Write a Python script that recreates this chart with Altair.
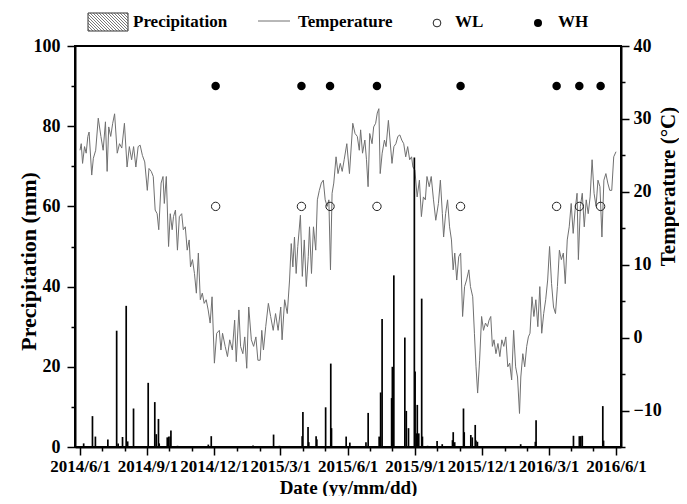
import altair as alt
import pandas as pd

# ---------------- data ----------------
# daily precipitation events (mm)
precip_date = ["2014-06-06","2014-06-18","2014-06-22","2014-07-09","2014-07-21","2014-07-23","2014-07-29","2014-08-03",
               "2014-08-05","2014-08-13","2014-09-02","2014-09-11","2014-09-13","2014-09-16","2014-09-17","2014-09-28",
               "2014-09-30","2014-10-02","2014-10-03","2014-10-12","2014-11-23","2014-11-27","2015-01-23","2015-02-20",
               "2015-02-28","2015-03-31","2015-04-01","2015-04-08","2015-04-09","2015-04-19","2015-04-20","2015-05-02",
               "2015-05-09","2015-05-10","2015-05-30","2015-06-04","2015-06-26","2015-06-29","2015-07-14","2015-07-16",
               "2015-07-18","2015-07-31","2015-08-01","2015-08-03","2015-08-18","2015-08-20","2015-08-23","2015-08-31",
               "2015-09-01","2015-09-03","2015-09-04","2015-09-06","2015-09-10","2015-09-11","2015-09-18","2015-10-01",
               "2015-10-08","2015-10-22","2015-10-23","2015-10-25","2015-11-06","2015-11-07","2015-11-16","2015-11-18",
               "2015-11-22","2015-11-23","2015-11-25","2016-01-23","2016-02-12","2016-02-13","2016-04-04","2016-04-12",
               "2016-04-14","2016-04-16","2016-05-14","2016-05-15"]
precip_mm = [0.9, 7.7, 2.6, 1.9, 29, 0.9, 2.5, 35.2, 1.4, 9.6, 16, 11.2, 3.2, 7, 0.9, 2.4, 2.6, 2.6, 4.1, 0.3,
             0.6, 2.7, 0.4, 3.1, 0.3, 2.7, 8.7, 5, 1.2, 2.7, 1.9, 9.9, 20.8, 4.7, 2.6, 1.1, 1.2, 8.5, 2.6, 13.6,
             31.9, 12.2, 20, 42.8, 27.3, 9, 4.7, 72.2, 18.8, 3.4, 10.5, 3.4, 37, 2.6, 0.3, 1.5, 0.7, 1.7, 3.7, 1.2,
             9.6, 3.7, 3, 2.4, 5.5, 1.6, 1.3, 0.7, 1.3, 6.7, 2.8, 2.7, 2.7, 2.8, 10.2, 1.6]

# air temperature (deg C), read at days after 2014-06-01
temp_day = [0, 1.7, 3.5, 6.2, 8.4, 10.7, 12.4, 16.0, 18.2, 21.4, 24.9, 28.5, 31.6, 34.7, 37.0, 39.2, 41.9, 44.6, 47.2, 50.8,
            53.9, 57.0, 60.6, 64.2, 67.3, 70.4, 73.1, 76.2, 79.3, 82.0, 85.1, 88.3, 91.8, 94.1, 97.2, 99.9, 102.5, 105.2, 107.4, 110.6,
            113.2, 115.0, 117.7, 120.8, 123.1, 125.7, 127.5, 130.2, 132.9, 135.5, 138.7, 140.9, 143.6, 146.2, 148.9, 150.7, 153.4, 156.1, 158.7, 161.4,
            164.1, 166.8, 169.4, 172.1, 174.8, 177.5, 180.1,
            183.3, 186.4, 190.0, 192.2, 194.4, 198.0, 201.1, 204.2, 207.8, 210.9, 213.1, 216.7, 219.0, 222.1, 224.7, 227.4, 230.1, 233.7, 236.8, 239.9,
            242.6, 245.7, 247.9, 250.2, 253.3, 256.9, 260.0, 263.5, 266.7, 270.2, 273.8, 275.6, 279.1, 282.7,
            285.8, 288.1, 290.3, 292.5, 294.8, 297.0, 300.6, 303.2, 305.9, 308.6, 311.3, 313.0, 315.7, 318.4, 321.5, 323.7, 326.4, 329.1, 331.8, 334.4,
            337.1, 339.4, 341.6, 343.8, 346.1, 349.2, 351.9, 355.0, 357.6, 360.3, 363.9, 367.5,
            372.0, 375.1, 378.2, 380.9, 382.7, 385.3, 388.5, 390.7, 392.9, 395.1, 398.3, 400.5, 403.2, 405.4, 407.6, 409.4, 412.1, 415.2, 417.4, 420.6,
            422.8, 425.5, 428.1, 430.8, 433.5, 436.2, 438.8, 441.5, 444.2, 446.9, 449.6, 452.2, 454.0, 456.7, 459.8, 462.9, 465.6, 468.3, 471.0, 473.2,
            476.3, 479.0, 482.1, 485.2, 488.8, 491.5, 494.2, 495.9, 498.6, 501.3, 504.0, 506.6, 508.9, 511.1, 513.8, 516.5, 519.1, 521.8, 524.5, 527.2,
            530.3, 532.5, 535.6, 537.9, 540.1, 542.3, 545.0, 547.7, 550.3, 553.0, 555.7, 557.9, 560.2, 562.4, 564.6, 567.3, 570.0, 572.6, 575.3, 578.0,
            580.7, 583.4, 586.0, 588.7, 591.4, 594.1, 596.7, 599.4, 601.2, 603.9, 606.5, 609.2, 611.5, 613.7, 616.4, 619.0, 621.7, 624.4, 627.1, 629.7,
            632.4, 635.1, 637.8, 640.4, 643.1, 645.8, 648.5, 651.1, 653.8, 656.5, 659.2, 661.8, 664.5, 667.2, 669.9, 672.6, 675.2, 677.9, 679.7, 682.4,
            685.0, 687.7, 690.4, 693.1, 695.7, 698.4, 701.1, 703.8, 706.4, 709.1, 711.8, 714.5, 717.2, 719.8, 722.5, 725.2, 727.9, 731]
temp_c = [25.7, 26.6, 23.9, 26.2, 25.3, 27.6, 28.2, 22.3, 24.6, 25.7, 30.1, 27.6, 25.7, 29.6, 22.8, 28.9, 27.6, 29.4, 30.7, 25.3,
          26.6, 26.0, 29.4, 23.4, 26.2, 24.4, 26.2, 23.4, 26.2, 26.4, 25.0, 24.1, 20.2, 23.2, 22.8, 22.1, 17.5, 17.0, 14.8, 21.2,
          22.1, 18.4, 22.1, 12.5, 17.0, 14.8, 16.6, 17.5, 12.0, 16.6, 17.0, 14.8, 15.2, 12.0, 13.4, 9.7, 10.7, 8.8, 6.1, 11.6,
          5.2, 6.1, 4.7, 5.2, 3.8, 2.0, 5.6,
          -3.5, 0.6, 1.0, -1.7, 0.6, -1.2, -2.6, -0.3, -1.7, 2.4, -3.3, 3.8, -1.2, -2.2, 0.1, -4.2, 4.2, -0.3, -1.2, 0.1,
          -3.1, -3.1, 1.0, -1.7, 1.5, 4.7, 2.9, 1.0, 3.3, 1.0, 4.2, -0.3, 5.2, 3.3,
          7.9, 12.9, 9.7, 13.8, 8.8, 12.5, 16.8, 8.4, 13.4, 7.0, 11.1, 15.2, 8.8, 15.2, 12.0, 18.9, 20.2, 21.2, 21.6, 18.9,
          18.0, 18.9, 9.3, 19.8, 21.2, 24.8, 22.5, 23.9, 22.8, 24.4, 26.6, 22.5,
          29.4, 28.0, 27.6, 25.7, 28.5, 25.3, 27.1, 24.4, 20.7, 28.0, 26.6, 28.9, 29.4, 30.8, 31.4, 22.5, 25.3, 27.1, 26.2, 29.8,
          27.1, 23.9, 26.2, 26.6, 27.6, 27.8, 27.1, 26.6, 24.8, 26.2, 24.4, 24.8, 23.4, 23.0, 19.3, 21.6, 16.6, 19.3, 18.9, 22.1,
          20.7, 22.1, 18.9, 16.1, 18.4, 21.6, 17.0, 13.8, 17.0, 18.9, 15.2, 13.4, 9.3, 11.6, 7.9, 11.1, 11.6, 2.9, 7.0, 7.9,
          9.3, 7.0, 5.6, 0.6, -4.0, -7.6, -3.1, 2.9, 1.0, 2.0, 1.5, 2.4, 2.9, -1.2, -0.3, -2.2, -0.8, -2.6, -0.3, -1.2,
          0.1, -4.0, -3.5, -5.8, 1.0, -4.0, -5.4, -10.4, -5.4, -2.2, -4.0, -1.2, 0.1, 0.6, 5.6, 2.9, 5.2, 1.5, 7.0, 0.6,
          3.3, 5.2, 7.9, 12.5, 7.4, 4.2, 3.3, 7.0, 12.0, 10.7, 11.6, 7.4, 13.4, 15.2, 18.4, 14.3, 17.5, 19.8, 10.7, 18.0,
          19.8, 15.2, 18.9, 17.0, 19.3, 24.4, 19.8, 18.0, 21.6, 20.7, 13.8, 21.6, 22.5, 21.2, 20.2, 20.2, 24.8, 25.5]

# sampling dates of the two water-level treatments (plotted on the precipitation axis)
sample_date = ["2014-12-03", "2015-03-30", "2015-05-08", "2015-07-11", "2015-11-02", "2016-03-12", "2016-04-12", "2016-05-11"]
wl_level = 60
wh_level = 90

assert len(temp_day) == len(temp_c)
assert len(precip_date) == len(precip_mm)

start = pd.Timestamp("2014-06-01")
temp_df = pd.DataFrame({"date": start + pd.to_timedelta(temp_day, unit="D"), "temp": temp_c})
precip_df = pd.DataFrame({"date": pd.to_datetime(precip_date), "precip": precip_mm})
wl_df = pd.DataFrame({"date": pd.to_datetime(sample_date), "precip": [wl_level] * len(sample_date)})
wh_df = pd.DataFrame({"date": pd.to_datetime(sample_date), "precip": [wh_level] * len(sample_date)})

# ---------------- styling ----------------
FONT = "Liberation Serif"
W, H = 546, 401

months = []
for y in (2014, 2015, 2016):
    for m in range(1, 13):
        if (y == 2014 and m < 6) or (y == 2016 and m > 6):
            continue
        months.append(alt.DateTime(year=y, month=m, date=1))

xscale = alt.Scale(domain=[alt.DateTime(year=2014, month=6, date=1), alt.DateTime(year=2016, month=6, date=1)])
xaxis = alt.Axis(
    values=months,
    labelExpr="month(datum.value) % 3 == 2 ? timeFormat(datum.value, '%Y/%-m/%-d') : ''",
    tickSize={"condition": {"test": "month(datum.value) % 3 == 2", "value": 8}, "value": 4},
    title="Date (yy/mm/dd)", grid=False, labelOverlap=False, labelFlush=False,
    labelFont=FONT, labelFontWeight="bold", labelFontSize=17, labelColor="black", labelPadding=3,
    titleFont=FONT, titleFontWeight="bold", titleFontSize=19, titleColor="black",
    titleY=40, titleBaseline="middle",
    domainColor="black", domainWidth=2, tickColor="black", tickWidth=1.5,
)
x_enc = alt.X("date:T", scale=xscale, axis=xaxis)

left_axis = alt.Axis(
    orient="left", values=list(range(0, 101, 10)),
    labelExpr="datum.value % 20 == 0 ? datum.label : ''",
    tickSize={"condition": {"test": "datum.value % 20 == 0", "value": 8}, "value": 4},
    title="Precipitation (mm)", grid=False,
    labelFont=FONT, labelFontWeight="bold", labelFontSize=18, labelColor="black", labelPadding=7,
    titleFont=FONT, titleFontWeight="bold", titleFontSize=22, titleColor="black",
    titleAngle=270, titleX=-47, titleY=215, titleBaseline="middle", titleAlign="center",
    domainColor="black", domainWidth=2, tickColor="black", tickWidth=1.5,
)
right_axis = alt.Axis(
    orient="right", values=list(range(-15, 41, 5)),
    labelExpr="datum.value % 10 == 0 ? datum.label : ''",
    tickSize={"condition": {"test": "datum.value % 10 == 0", "value": 8}, "value": 4},
    title="Temperature (°C)", grid=False,
    labelFont=FONT, labelFontWeight="bold", labelFontSize=18, labelColor="black", labelPadding=4,
    titleFont=FONT, titleFontWeight="bold", titleFontSize=21, titleColor="black",
    titleAngle=270, titleX=47, titleY=140, titleBaseline="middle", titleAlign="center",
    domainColor="black", domainWidth=2, tickColor="black", tickWidth=1.5,
)
p_scale = alt.Scale(domain=[0, 100], nice=False)
t_scale = alt.Scale(domain=[-15, 40], nice=False)

temp_line = alt.Chart(temp_df).mark_line(color="#707070", strokeWidth=1).encode(
    x=x_enc, y=alt.Y("temp:Q", scale=t_scale, axis=right_axis)
)
bars = alt.Chart(precip_df).mark_bar(color="black", size=1.7).encode(
    x=x_enc, y=alt.Y("precip:Q", scale=p_scale, axis=left_axis)
)
wl_pts = alt.Chart(wl_df).mark_point(shape="circle", filled=False, size=70, color="#222", strokeWidth=1, opacity=1).encode(
    x=x_enc, y=alt.Y("precip:Q", scale=p_scale, axis=left_axis)
)
wh_pts = alt.Chart(wh_df).mark_point(shape="circle", filled=True, size=72, color="black", opacity=1).encode(
    x=x_enc, y=alt.Y("precip:Q", scale=p_scale, axis=left_axis)
)
precip_group = alt.layer(bars, wl_pts, wh_pts)

# ---------------- legend (decoration) ----------------
one = alt.Data(values=[{"k": 1}])
leg = []
bx0, bx1, by0, by1 = 13, 53, -33, -15
leg.append(alt.Chart(one).mark_rect(fill="white", stroke="#333", strokeWidth=1).encode(
    x=alt.value(bx0), x2=alt.value(bx1), y=alt.value(by0), y2=alt.value(by1)))
hh = by1 - by0
for s in range(-hh + 2, bx1 - bx0, 3):
    xa, ya = bx0 + s, by0
    xb, yb = bx0 + s + hh, by1
    if xa < bx0:
        ya = by0 + (bx0 - xa)
        xa = bx0
    if xb > bx1:
        yb = by1 - (xb - bx1)
        xb = bx1
    leg.append(alt.Chart(one).mark_rule(color="#555", strokeWidth=0.8).encode(
        x=alt.value(xa), x2=alt.value(xb), y=alt.value(ya), y2=alt.value(yb)))
leg.append(alt.Chart(one).mark_rule(color="#707070", strokeWidth=1).encode(
    x=alt.value(183), x2=alt.value(215), y=alt.value(-25)))
leg.append(alt.Chart(one).mark_point(shape="circle", filled=False, size=60, color="#222", strokeWidth=1, opacity=1).encode(
    x=alt.value(362), y=alt.value(-23)))
leg.append(alt.Chart(one).mark_point(shape="circle", filled=True, size=64, color="black", opacity=1).encode(
    x=alt.value(463), y=alt.value(-23)))
for tx, label in [(58, "Precipitation"), (223, "Temperature"), (380, "WL"), (483, "WH")]:
    leg.append(alt.Chart(one).mark_text(font=FONT, fontWeight="bold", fontSize=17, align="left",
                                        baseline="middle", color="black").encode(
        x=alt.value(tx), y=alt.value(-24), text=alt.value(label)))

chart = alt.layer(temp_line, precip_group, *leg).resolve_scale(y="independent").properties(
    width=W, height=H,
    autosize=alt.AutoSizeParams(type="none"),
    padding={"left": 67, "top": 38, "right": 58, "bottom": 49},
    background="white",
).configure_view(stroke="black", strokeWidth=2)

chart.save("out.html", embed_options={"renderer": "svg", "actions": False})
